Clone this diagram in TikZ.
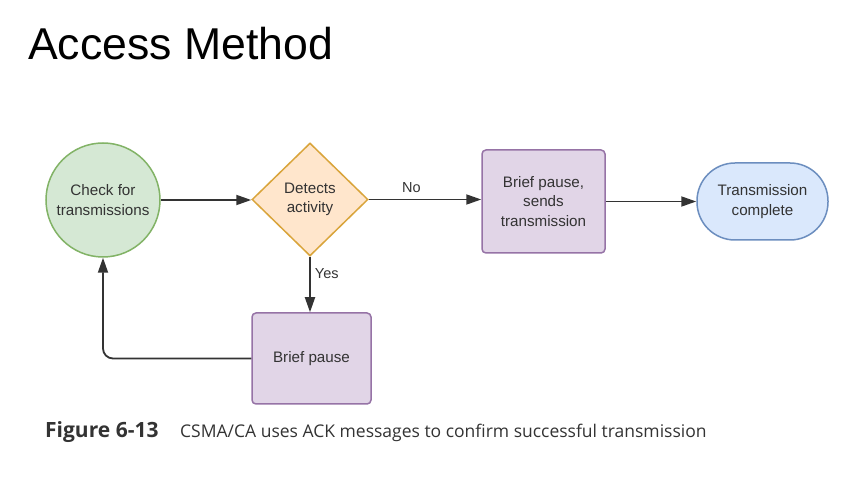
\documentclass[tikz,border=0pt]{standalone}
\usepackage{fontspec}
\setmainfont{Liberation Sans}
\newfontfamily\capfont{Open Sans}
\usetikzlibrary{shapes.geometric,arrows.meta}
\definecolor{gfill}{HTML}{D5E8D4}\definecolor{gline}{HTML}{82B366}
\definecolor{ofill}{HTML}{FFE6CC}\definecolor{oline}{HTML}{D9A43A}
\definecolor{pfill}{HTML}{E1D5E7}\definecolor{pline}{HTML}{9673A6}
\definecolor{bfill}{HTML}{DAE8FC}\definecolor{bline}{HTML}{6C8EBF}
\definecolor{ink}{HTML}{333333}
\tikzset{
  lbl/.style={font=\fontsize{15.2}{19.5}\selectfont, text=ink, align=center},
  shp/.style={lbl, line width=1.5pt, inner sep=0pt},
  arr/.style={line width=1.8pt, draw=ink, -{Triangle[length=15pt,width=10pt]}},
  conlbl/.style={font=\fontsize{14.5}{16}\selectfont, text=ink, inner sep=0pt}
}
\begin{document}
\begin{tikzpicture}[x=1pt,y=-1pt]
\fill[white] (0,0) rectangle (868,494);
\useasboundingbox (0,0) rectangle (868,494);
\node[anchor=base west, inner sep=0pt, font=\fontsize{44.6}{50}\selectfont] (title) at (28,60) {Access Method};
\node[shp, circle, draw=gline, fill=gfill, minimum size=114pt] (chk) at (103,200) {Check for\\transmissions};
\node[shp, diamond, aspect=1, draw=oline, fill=ofill, minimum width=116pt, minimum height=113pt] (det) at (310,199.5) {Detects\\activity};
\node[shp, rectangle, rounded corners=4pt, draw=pline, fill=pfill, minimum width=123pt, minimum height=103pt] (send) at (543.5,201.5) {Brief pause,\\sends\\transmission};
\node[shp, rectangle, rounded corners=38pt, draw=bline, fill=bfill, minimum width=131pt, minimum height=77pt] (done) at (762.5,201.5) {Transmission\\complete};
\node[shp, rectangle, rounded corners=4pt, draw=pline, fill=pfill, minimum width=119pt, minimum height=91pt] (bp) at (311.5,358.5) {Brief pause};
\draw[arr] (chk.east) -- (chk.east -| det.west);
\draw[arr] (det.east) -- (det.east -| send.west) node[conlbl, pos=0.38, above=6pt] (no) {No};
\draw[arr] (send.east |- done.west) -- (done.west);
\draw[arr] (det.south) -- (det.south |- bp.north) node[conlbl, pos=0.3, right=4pt] (yes) {Yes};
\draw[arr, rounded corners=10pt] (bp.west) -| (chk.south);
\node[anchor=base west, inner sep=0pt, font=\capfont\bfseries\fontsize{21}{24}\selectfont, text=ink] (fig) at (45,438) {Figure 6-13};
\node[anchor=base west, inner sep=0pt, font=\capfont\fontsize{17.5}{21}\selectfont, text=ink] (cap) at (180,438) {CSMA/CA uses ACK messages to confirm successful transmission};
\end{tikzpicture}
\end{document}
